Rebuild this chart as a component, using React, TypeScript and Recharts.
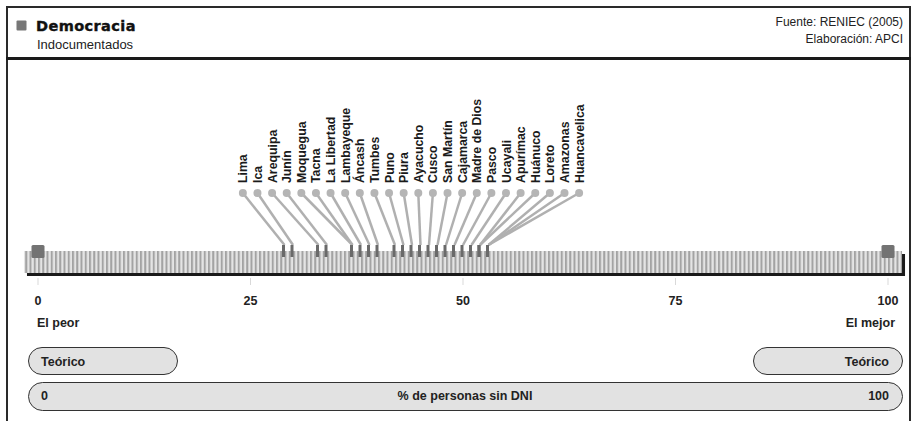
import { ComposedChart, XAxis, YAxis, Scatter, ReferenceArea } from "recharts";

// regions, sorted by % of people without DNI
const regions = [
  "Lima", "Ica", "Arequipa", "Junín", "Moquegua", "Tacna", "La Libertad", "Lambayeque",
  "Áncash", "Tumbes", "Puno", "Piura", "Ayacucho", "Cusco", "San Martín", "Cajamarca",
  "Madre de Dios", "Pasco", "Ucayali", "Apurímac", "Huánuco", "Loreto", "Amazonas", "Huancavelica",
];
const values = [
  29, 30, 33, 34, 37, 37, 38, 39,
  40, 42, 43, 44, 45, 46, 47, 48,
  49, 50, 51, 52, 52, 53, 53, 53,
];
const ticks = [0, 25, 50, 75, 100];
const extremes = [0, 100];

// label fan layout (x axis units) and vertical levels (y axis = px)
const LABEL_START = 24.1;
const LABEL_STEP = 1.72;
const DOT_Y = 193;
const MARK_Y = 245;

const FONT = "'Liberation Sans', Arial, sans-serif";
const INK = "#222";

const RegionShape = (props: any) => {
  const { cx, cy, payload } = props;
  if (payload.kind === "mark") {
    return <rect x={cx - 2.5} y={cy} width={3} height={12} fill="#6a6a6a" />;
  }
  const tx = cx + 4.5;
  const ty = cy - 10;
  return (
    <g>
      <circle cx={cx} cy={cy} r={4} fill="#b5b5b5" />
      <text
        x={tx}
        y={ty}
        transform={`rotate(-90, ${tx}, ${ty})`}
        fontFamily={FONT}
        fontSize={12.3}
        fontWeight="bold"
        fill="#1a1a1a"
      >
        {payload.name}
      </text>
    </g>
  );
};

const EndShape = (props: any) => {
  const { cx, cy } = props;
  return <rect x={cx - 6.5} y={cy} width={13} height={13} rx={1.5} fill="#737373" />;
};

const StripShape = (props: any) => {
  const { x, y, width, height } = props;
  return (
    <g>
      <rect x={x + 3} y={y + 3} width={width} height={height} fill="#1a1a1a" />
      <rect x={x} y={y} width={width} height={height} fill="url(#stripes)" />
    </g>
  );
};

export default function App() {
  const series = regions.map((name, i) => ({
    name,
    value: values[i],
    labelAt: LABEL_START + i * LABEL_STEP,
  }));

  const pill = { fill: "#e2e2e2", stroke: "#333", strokeWidth: 1 };
  const bold = { fontFamily: FONT, fontSize: 12.5, fontWeight: "bold" as const, fill: INK };

  return (
    <div
      style={{
        position: "absolute",
        left: 0,
        top: 0,
        width: 912,
        height: 421,
        overflow: "hidden",
        background: "#fff",
      }}
    >
      <svg width={912} height={421} style={{ position: "absolute", left: 0, top: 0 }}>
        <rect x={7} y={7} width={903} height={440} fill="none" stroke="#2a2a2a" strokeWidth={2} />
        <rect x={6} y={57} width={905} height={3} fill="#1a1a1a" />
        <rect x={16.5} y={20.5} width={10} height={10} rx={1} fill="#777" />
        <text
          x={36}
          y={31}
          fontFamily="'DejaVu Sans', sans-serif"
          fontSize={14.5}
          fontWeight="bold"
          letterSpacing={0.4}
          fill="#111"
          stroke="#111"
          strokeWidth={0.4}
        >
          Democracia
        </text>
        <text x={37} y={49} fontFamily={FONT} fontSize={13} fill={INK}>
          Indocumentados
        </text>
        <text x={903} y={26} textAnchor="end" fontFamily={FONT} fontSize={12} fill={INK}>
          Fuente: RENIEC (2005)
        </text>
        <text x={903} y={43} textAnchor="end" fontFamily={FONT} fontSize={12} fill={INK}>
          Elaboración: APCI
        </text>

        <text x={37} y={327} {...bold}>El peor</text>
        <text x={895} y={327} textAnchor="end" {...bold}>El mejor</text>

        <rect x={28.5} y={347.5} width={149} height={27} rx={13.5} {...pill} />
        <text x={41} y={366} {...bold}>Teórico</text>
        <rect x={753.5} y={347.5} width={149} height={27} rx={13.5} {...pill} />
        <text x={889} y={366} textAnchor="end" {...bold}>Teórico</text>

        <rect x={28.5} y={382.5} width={874} height={28} rx={14} {...pill} />
        <text x={41} y={400} {...bold}>0</text>
        <text x={465} y={400} textAnchor="middle" {...bold}>% de personas sin DNI</text>
        <text x={889} y={400} textAnchor="end" {...bold}>100</text>
      </svg>

      <div style={{ position: "absolute", left: 0, top: 0 }}>
        <ComposedChart width={912} height={421} margin={{ top: 0, right: 24, bottom: 0, left: 38 }}>
          <defs>
            <pattern id="stripes" patternUnits="userSpaceOnUse" x={38} y={0} width={4.25} height={10}>
              <rect x={0} y={0} width={4.25} height={10} fill="#e4e4e4" />
              <rect x={0} y={0} width={2} height={10} fill="#a3a3a3" />
            </pattern>
          </defs>
          <XAxis
            type="number"
            dataKey="x"
            domain={[0, 100]}
            ticks={ticks}
            axisLine={false}
            tickLine={{ stroke: "#d9d9d9" }}
            tickSize={7}
            tickMargin={11}
            height={143}
            tick={{ fontFamily: FONT, fontSize: 12.5, fontWeight: "bold", fill: INK }}
          />
          <YAxis type="number" dataKey="y" domain={[0, 278]} reversed hide width={0} />
          <ReferenceArea
            x1={-1.65}
            x2={101.65}
            y1={251}
            y2={273}
            ifOverflow="visible"
            shape={StripShape}
          />
          {series.map((r) => (
            <Scatter
              key={r.name}
              data={[
                { x: r.value, y: MARK_Y, name: r.name, kind: "mark" },
                { x: r.labelAt, y: DOT_Y, name: r.name, kind: "label" },
              ]}
              line={{ stroke: "#b0b0b0", strokeWidth: 2.5 }}
              lineType="joint"
              shape={RegionShape}
              isAnimationActive={false}
            />
          ))}
          <Scatter
            data={extremes.map((v) => ({ x: v, y: MARK_Y }))}
            shape={EndShape}
            isAnimationActive={false}
          />
        </ComposedChart>
      </div>
    </div>
  );
}
